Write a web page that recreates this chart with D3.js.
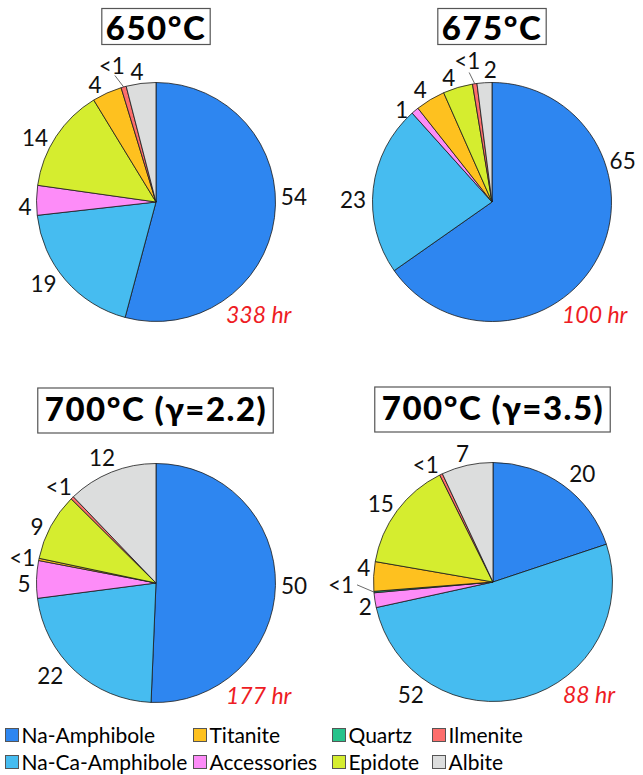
<!DOCTYPE html>
<html>
<head>
<meta charset="utf-8">
<script src="https://cdn.jsdelivr.net/npm/d3@7/dist/d3.min.js"></script>
<style>
  body { margin: 0; background: #fff; }
  svg { display: block; }
</style>
</head>
<body>
<svg id="chart" width="643" height="775"></svg>
<script>
// Mineral phases (legend order) and their fill colours
const minerals = ["Na-Amphibole", "Na-Ca-Amphibole", "Titanite", "Accessories", "Quartz", "Epidote", "Ilmenite", "Albite"];
const mineralColors = ["#2e86f0", "#46bcf0", "#fec11f", "#fd8cf8", "#27c38b", "#d5ed2f", "#fd6e6c", "#dcdddd"];

// Experiment titles and run durations
const titles = ["650°C", "675°C", "700°C (γ=2.2)", "700°C (γ=3.5)"];
const durations = ["338 hr", "100 hr", "177 hr", "88 hr"];

// Modal proportions (%), listed clockwise from 12 o'clock
const phases650 = ["Na-Amphibole", "Na-Ca-Amphibole", "Accessories", "Epidote", "Titanite", "Ilmenite", "Albite"];
const values650 = [54, 19, 4, 14, 4, 0.7, 4];
const labels650 = ["54", "19", "4", "14", "4", "<1", "4"];

const phases675 = ["Na-Amphibole", "Na-Ca-Amphibole", "Accessories", "Titanite", "Epidote", "Ilmenite", "Albite"];
const values675 = [65, 23, 1, 4, 4, 0.6, 2];
const labels675 = ["65", "23", "1", "4", "4", "<1", "2"];

const phases700a = ["Na-Amphibole", "Na-Ca-Amphibole", "Accessories", "Titanite", "Epidote", "Ilmenite", "Albite"];
const values700a = [50, 22, 5, 0.3, 9, 0.4, 12];
const labels700a = ["50", "22", "5", "<1", "9", "<1", "12"];

const phases700b = ["Na-Amphibole", "Na-Ca-Amphibole", "Accessories", "Quartz", "Titanite", "Epidote", "Ilmenite", "Albite"];
const values700b = [20, 52, 2, 0.2, 4, 15, 0.4, 7];
const labels700b = ["20", "52", "2", "<1", "4", "15", "<1", "7"];

const pieData = [
  { phases: phases650, values: values650, labels: labels650 },
  { phases: phases675, values: values675, labels: labels675 },
  { phases: phases700a, values: values700a, labels: labels700a },
  { phases: phases700b, values: values700b, labels: labels700b }
];

// ---- layout ----
const R = 119.5;
const LABEL_R = 134;
const centers = [[156, 202], [492, 202], [156, 583], [493, 582]];

// Where each value label sits (degrees clockwise from top, distance from centre)
const labelPlacement = [
  { "Na-Amphibole": { angle: 88, r: 138 }, "Na-Ca-Amphibole": { angle: 234, r: 139 },
    "Accessories": { angle: 268, r: 131 }, "Epidote": { angle: 298, r: 137 },
    "Titanite": { angle: 332.5, r: 132 }, "Ilmenite": { angle: 342, r: 143, leader: 133 },
    "Albite": { angle: 351.7, r: 131 } },
  { "Na-Amphibole": { angle: 72.5, r: 137 }, "Na-Ca-Amphibole": { angle: 271, r: 139 },
    "Accessories": { angle: 315.6, r: 129 }, "Titanite": { angle: 327.4, r: 133 },
    "Epidote": { angle: 340.7, r: 131 }, "Ilmenite": { angle: 350, r: 143, leader: 131.5 },
    "Albite": { angle: 359.2, r: 132 } },
  { "Na-Amphibole": { r: 138 }, "Na-Ca-Amphibole": { angle: 228.6, r: 141 },
    "Accessories": { angle: 269.6, r: 132 }, "Titanite": { angle: 280.6, r: 136 },
    "Epidote": { angle: 295.2, r: 131.5 }, "Ilmenite": { angle: 314.5, r: 136.5 },
    "Albite": { angle: 336.6, r: 136 } },
  { "Na-Amphibole": { angle: 39.5, r: 140.5 }, "Na-Ca-Amphibole": { angle: 216, r: 140 },
    "Accessories": { angle: 259, r: 130 }, "Quartz": { angle: 268.8, r: 152, leader: 136 },
    "Titanite": { angle: 276.3, r: 130 }, "Epidote": { angle: 305, r: 137 },
    "Ilmenite": { angle: 330, r: 134.7 }, "Albite": { angle: 346.6, r: 132 } }
];

const svg = d3.select("#chart");
const color = d3.scaleOrdinal().domain(minerals).range(mineralColors);
const pie = d3.pie().sort(null).value(d => d.value);
const arc = d3.arc().innerRadius(0).outerRadius(R);
const toRad = a => a * Math.PI / 180;
const polar = (angDeg, r) => [r * Math.sin(toRad(angDeg)), -r * Math.cos(toRad(angDeg))];

const FONT = "Lato, 'Open Sans', sans-serif";

pieData.forEach((pd, i) => {
  const [cx, cy] = centers[i];
  const rows = pd.phases.map((p, j) => ({ phase: p, value: pd.values[j], label: pd.labels[j] }));
  const arcs = pie(rows);
  const g = svg.append("g").attr("transform", `translate(${cx},${cy})`);

  g.selectAll("path.slice")
    .data(arcs)
    .join("path")
    .attr("class", "slice")
    .attr("d", arc)
    .attr("fill", d => color(d.data.phase))
    .attr("stroke", "#1a1a1a")
    .attr("stroke-width", 0.8)
    .attr("stroke-linejoin", "round");

  // slice value labels
  arcs.forEach(a => {
    const mid = (a.startAngle + a.endAngle) / 2 * 180 / Math.PI;
    const tweak = labelPlacement[i][a.data.phase] || {};
    const ang = tweak.angle !== undefined ? tweak.angle : mid;
    const r = tweak.r !== undefined ? tweak.r : LABEL_R;
    const [lx, ly] = polar(ang, r);
    if (tweak.leader) {
      const [x0, y0] = polar(mid, R);
      const [x1, y1] = polar(ang, tweak.leader);
      g.append("line")
        .attr("x1", x0).attr("y1", y0).attr("x2", x1).attr("y2", y1)
        .attr("stroke", "#444").attr("stroke-width", 0.8);
    }
    g.append("text")
      .attr("x", lx).attr("y", ly)
      .attr("dy", "0.36em")
      .attr("text-anchor", "middle")
      .attr("font-family", FONT)
      .attr("font-size", 22.5)
      .attr("fill", "#111")
      .text(a.data.label);
  });

  // run duration
  g.append("text")
    .attr("x", 70).attr("y", 121)
    .attr("font-family", FONT)
    .attr("font-style", "italic")
    .attr("font-size", 23)
    .attr("fill", "#ee1c24")
    .text(durations[i]);

  // boxed title
  const baseline = -162.5;
  const title = g.append("text")
    .attr("x", 0).attr("y", baseline)
    .attr("text-anchor", "middle")
    .attr("font-family", FONT)
    .attr("font-weight", 900)
    .attr("font-size", 33)
    .attr("letter-spacing", 1.5)
    .attr("fill", "#000")
    .text(titles[i]);
  const bb = title.node().getBBox();
  const hasParen = /[()]/.test(titles[i]);
  const top = baseline - (hasParen ? 32.5 : 31);
  const bottom = baseline + (hasParen ? 12.5 : 5);
  g.insert("rect", "text")
    .attr("x", bb.x - (hasParen ? 7 : 4)).attr("y", top)
    .attr("width", bb.width + (hasParen ? 13 : 8)).attr("height", bottom - top)
    .attr("fill", "#fff")
    .attr("stroke", "#555")
    .attr("stroke-width", 1.2);
});

// ---- legend (two rows, four columns) ----
const legendCols = [5, 193, 332, 432];
const legendRows = [728, 755];
const legend = svg.append("g");
minerals.forEach((m, k) => {
  const col = Math.floor(k / 2), row = k % 2;
  const x = legendCols[col], y = legendRows[row];
  legend.append("rect")
    .attr("x", x + 0.5).attr("y", y + 0.5)
    .attr("width", 13).attr("height", 13)
    .attr("fill", color(m))
    .attr("stroke", "#555")
    .attr("stroke-width", 1);
  legend.append("text")
    .attr("x", x + 16.5).attr("y", y + 15)
    .attr("font-family", FONT)
    .attr("font-size", 21)
    .attr("fill", "#000")
    .text(m);
});
</script>
</body>
</html>
